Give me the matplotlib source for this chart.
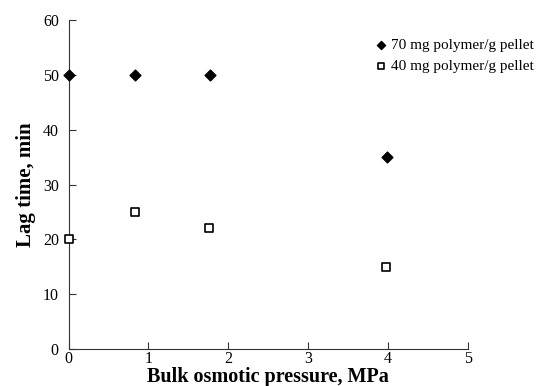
import matplotlib
matplotlib.use('Agg')
import matplotlib.pyplot as plt

# data
pressure_70 = [0.0, 0.83, 1.77, 3.98]
lag_70 = [50, 50, 50, 35]
pressure_40 = [0.0, 0.83, 1.76, 3.97]
lag_40 = [20, 25, 22, 15]
series_labels = ['70 mg polymer/g pellet', '40 mg polymer/g pellet']
x_ticks = [0, 1, 2, 3, 4, 5]
y_ticks = [0, 10, 20, 30, 40, 50, 60]

plt.rcParams['font.family'] = ['Liberation Serif', 'DejaVu Serif']

fig = plt.figure(figsize=(5.37, 3.86), dpi=100)
ax = fig.add_axes([0.1276, 0.0959, 0.744, 0.852])

ax.scatter(pressure_70, lag_70, marker='D', s=30, color='black',
           label=series_labels[0], clip_on=False, zorder=3)
ax.scatter(pressure_40, lag_40, marker='s', s=36, facecolors='white',
           edgecolors='black', linewidths=1.2, label=series_labels[1],
           clip_on=False, zorder=3)

ax.set_xlim(0, 5)
ax.set_ylim(0, 60)
ax.set_xticks(x_ticks)
ax.set_yticks(y_ticks)
ax.spines['top'].set_visible(False)
ax.spines['right'].set_visible(False)
for sp in ax.spines.values():
    sp.set_color('#333333')
ax.tick_params(axis='both', direction='in', length=5, labelsize=11.5, color='#333333')
ax.tick_params(axis='x', pad=1.5)
ax.tick_params(axis='y', pad=7)

# x label placed by its baseline so it stays inside the figure
fig.text(0.5 * (0.1276 + 0.8716), 4 / 386, 'Bulk osmotic pressure, MPa',
         fontsize=14.5, fontweight='bold', ha='center', va='baseline')
ax.set_ylabel('Lag time, min', fontsize=15, fontweight='bold', labelpad=5)

ax.legend(loc='center left', bbox_to_anchor=(0.744, 0.892), frameon=False,
          fontsize=11, handlelength=1.2, handletextpad=0.05, markerscale=0.75,
          borderaxespad=0, labelspacing=0.5)

fig.savefig('out.png', dpi=100)
